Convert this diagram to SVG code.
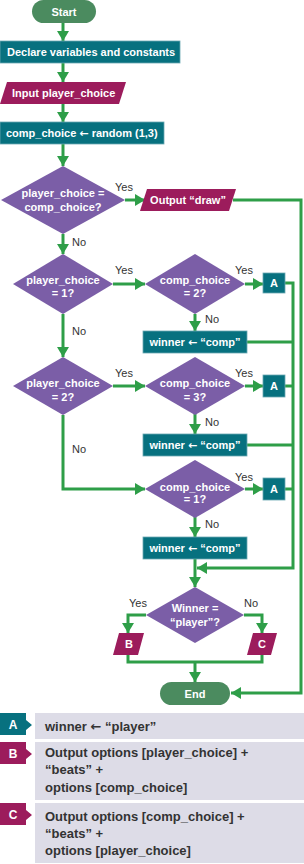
<svg xmlns="http://www.w3.org/2000/svg" width="304" height="864" viewBox="0 0 304 864">
<defs>
<marker id="ah" markerUnits="userSpaceOnUse" viewBox="0 0 10 12" refX="10" refY="6" markerWidth="10" markerHeight="12" orient="auto">
<path d="M0,0 L10,6 L0,12 Z" fill="#2e9e48"/>
</marker>
<style>
.c{fill:none;stroke:#2e9e48;stroke-width:3}
.a{marker-end:url(#ah)}
.term{fill:#4b8b5f}
.proc{fill:#07717f;stroke:#6aa8b2;stroke-width:0.8}
.io{fill:#9c1c5c}
.dec{fill:#7b5ea7}
.t{font-family:"Liberation Sans",Arial,sans-serif;font-size:11px;font-weight:bold;fill:#fff}
.m{text-anchor:middle}
.l{font-family:"Liberation Sans",Arial,sans-serif;font-size:11px;fill:#333}
.lg{fill:#dddce7}
.lt{font-family:"Liberation Sans",Arial,sans-serif;font-size:13px;font-weight:bold;fill:#333}
.tg{font-family:"Liberation Sans",Arial,sans-serif;font-size:12px;font-weight:bold;fill:#fff;text-anchor:middle}
.ar{font-family:"DejaVu Sans",sans-serif}
</style>
</defs>
<g id="connectors">
<path class="c a" d="M63,23 V41"/>
<path class="c a" d="M63,63 V82"/>
<path class="c a" d="M63,104 V122"/>
<path class="c a" d="M63,144 V166"/>
<path class="c a" d="M125,200 H145"/>
<path class="c a" d="M233,200 H301 V693 H231"/>
<path class="c a" d="M63,234 V254"/>
<path class="c a" d="M113,284 H145"/>
<path class="c a" d="M245,284 H263"/>
<path class="c a" d="M285,283 H293 V568 H197"/>
<path class="c a" d="M195,314 V331"/>
<path class="c" d="M247,342 H293"/>
<path class="c a" d="M63,314 V357"/>
<path class="c a" d="M113,386 H145"/>
<path class="c a" d="M245,386 H263"/>
<path class="c" d="M285,386 H293"/>
<path class="c a" d="M195,414 V434"/>
<path class="c" d="M247,445 H293"/>
<path class="c a" d="M63,415 V489 H145"/>
<path class="c a" d="M245,489 H263"/>
<path class="c" d="M285,489 H293"/>
<path class="c a" d="M195,517 V537"/>
<path class="c a" d="M195,559 V587"/>
<path class="c a" d="M146,615 H128 V633"/>
<path class="c a" d="M244,615 H262 V633"/>
<path class="c" d="M128,655 V662 H262 V655"/>
<path class="c a" d="M195,662 V682"/>
<text class="l" x="115" y="191">Yes</text>
<text class="l" x="72" y="246">No</text>
<text class="l" x="115" y="274">Yes</text>
<text class="l" x="235" y="274">Yes</text>
<text class="l" x="205" y="323">No</text>
<text class="l" x="72" y="335">No</text>
<text class="l" x="115" y="377">Yes</text>
<text class="l" x="235" y="377">Yes</text>
<text class="l" x="205" y="426">No</text>
<text class="l" x="72" y="453">No</text>
<text class="l" x="235" y="481">Yes</text>
<text class="l" x="205" y="528">No</text>
<text class="l" x="129" y="607">Yes</text>
<text class="l" x="244" y="607">No</text>
</g>
<g id="start"><rect class="term" x="32" y="0" width="64" height="23" rx="11.5"/><text class="t m" x="64" y="16">Start</text></g>
<g id="declare"><rect class="proc" x="0" y="41" width="180" height="22"/><text class="t" x="7" y="56">Declare variables and constants</text></g>
<g id="input"><polygon class="io" points="7,82 126,82 119,104 0,104"/><text class="t" x="12" y="97">Input player_choice</text></g>
<g id="random"><rect class="proc" x="0" y="122" width="164" height="22"/><text class="t" x="6" y="137">comp_choice <tspan class="ar">←</tspan> random (1,3)</text></g>
<g id="d1"><polygon class="dec" points="63,166 125,200 63,234 1,200"/><text class="t m" x="63" y="197">player_choice =</text><text class="t m" x="63" y="211">comp_choice?</text></g>
<g id="draw"><polygon class="io" points="147,189 236,189 229,211 140,211"/><text class="t m" x="188" y="204">Output “draw”</text></g>
<g id="d2"><polygon class="dec" points="63,254 113,284 63,314 13,284"/><text class="t m" x="63" y="284">player_choice</text><text class="t m" x="63" y="297">= 1?</text></g>
<g id="d2b"><polygon class="dec" points="195,254 245,284 195,314 145,284"/><text class="t m" x="195" y="284">comp_choice</text><text class="t m" x="195" y="297">= 2?</text></g>
<g id="a1"><rect class="proc" x="263" y="273" width="22" height="20"/><text class="t m" x="274" y="287">A</text></g>
<g id="w1"><rect class="proc" x="143" y="331" width="104" height="22"/><text class="t m" x="195" y="346">winner <tspan class="ar">←</tspan> “comp”</text></g>
<g id="d3"><polygon class="dec" points="63,357 113,386 63,415 13,386"/><text class="t m" x="63" y="387">player_choice</text><text class="t m" x="63" y="401">= 2?</text></g>
<g id="d3b"><polygon class="dec" points="195,357 245,386 195,415 145,386"/><text class="t m" x="195" y="387">comp_choice</text><text class="t m" x="195" y="401">= 3?</text></g>
<g id="a2"><rect class="proc" x="263" y="375" width="22" height="22"/><text class="t m" x="274" y="390">A</text></g>
<g id="w2"><rect class="proc" x="143" y="434" width="104" height="22"/><text class="t m" x="195" y="449">winner <tspan class="ar">←</tspan> “comp”</text></g>
<g id="d4"><polygon class="dec" points="195,460 245,489 195,518 145,489"/><text class="t m" x="195" y="491">comp_choice</text><text class="t m" x="195" y="503">= 1?</text></g>
<g id="a3"><rect class="proc" x="263" y="478" width="22" height="22"/><text class="t m" x="274" y="493">A</text></g>
<g id="w3"><rect class="proc" x="143" y="537" width="104" height="22"/><text class="t m" x="195" y="552">winner <tspan class="ar">←</tspan> “comp”</text></g>
<g id="winner"><polygon class="dec" points="195,587 244,615 195,643 146,615"/><text class="t m" x="195" y="612">Winner =</text><text class="t m" x="195" y="626">“player”?</text></g>
<g id="b"><polygon class="io" points="119,633 144,633 138,655 113,655"/><text class="t m" x="129" y="648">B</text></g>
<g id="c"><polygon class="io" points="253,633 277,633 271,655 247,655"/><text class="t m" x="262" y="648">C</text></g>
<g id="end"><rect class="term" x="160" y="682" width="70" height="23" rx="11.5"/><text class="t m" x="195" y="698">End</text></g>
<g id="legend-a"><rect class="lg" x="35" y="713" width="269" height="26"/><path fill="#07717f" d="M0,713 H26 V720 L32,725 L26,730 V735 H0 Z"/><text class="tg" x="13" y="729">A</text><text class="lt" x="45" y="731">winner <tspan class="ar">←</tspan> “player”</text></g>
<g id="legend-b"><rect class="lg" x="35" y="742" width="269" height="58"/><path fill="#9c1c5c" d="M0,742 H26 V749 L32,754 L26,759 V764 H0 Z"/><text class="tg" x="13" y="758">B</text><text class="lt" x="45" y="757">Output options [player_choice] +</text><text class="lt" x="45" y="774">“beats” +</text><text class="lt" x="45" y="792">options [comp_choice]</text></g>
<g id="legend-c"><rect class="lg" x="35" y="803" width="269" height="60"/><path fill="#9c1c5c" d="M0,803 H26 V810 L32,815 L26,820 V825 H0 Z"/><text class="tg" x="13" y="819">C</text><text class="lt" x="45" y="821">Output options [comp_choice] +</text><text class="lt" x="45" y="838">“beats” +</text><text class="lt" x="45" y="855">options [player_choice]</text></g>
</svg>
